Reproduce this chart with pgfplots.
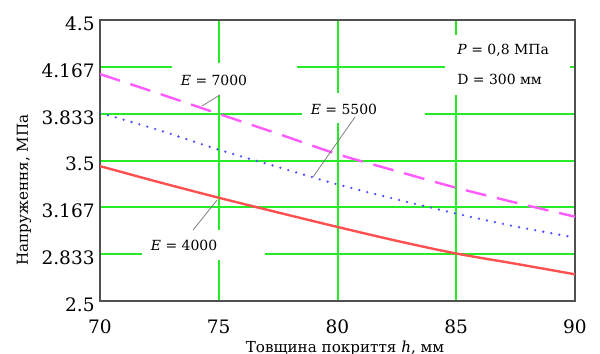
\documentclass[border=0pt]{standalone}
\usepackage{pgfplots}
\pgfplotsset{compat=1.18}
\usepackage{fontspec}
\setmainfont{DejaVu Serif}
\definecolor{gridgreen}{RGB}{40,235,40}
\definecolor{cred}{RGB}{255,80,80}
\definecolor{cmag}{RGB}{255,90,255}
\definecolor{cblue}{RGB}{80,80,255}
\definecolor{framec}{RGB}{80,80,80}
\begin{document}
\begin{tikzpicture}
\path[use as bounding box] (0,0) rectangle (300bp,177bp);
\begin{axis}[
  at={(50bp,26.5bp)}, anchor=south west,
  scale only axis, width=237.5bp, height=140.5bp,
  xmin=70, xmax=90, ymin=2.5, ymax=4.5,
  xtick={70,75,80,85,90},
  ytick={2.5,2.8333,3.1667,3.5,3.8333,4.1667,4.5},
  yticklabels={2.5,2.833,3.167,3.5,3.833,4.167,4.5},
  grid=major,
  major grid style={gridgreen, line width=1bp},
  major tick length=0pt,
  axis line style={framec, line width=0.8bp},
  tick label style={font=\fontsize{9.3}{12}\selectfont},
  /pgf/number format/assume math mode=true,
  xticklabel style={anchor=base, yshift=-16bp},
  yticklabel style={anchor=east, inner sep=0pt, xshift=-2.5bp, yshift=-1.8bp},
]
% white label boxes that interrupt the grid
\fill[white] (axis cs:73.03,3.966) rectangle (axis cs:78.29,4.194);
\fill[white] (axis cs:78.51,3.767) rectangle (axis cs:83.68,3.980);
\fill[white] (axis cs:71.77,2.792) rectangle (axis cs:76.95,3.005);
\fill[white] (axis cs:84.53,3.966) rectangle (axis cs:89.79,4.393);

\addplot[cred, line width=1.2bp, smooth] coordinates {
(70,3.460) (72.5,3.345) (75,3.235) (77.5,3.130) (80,3.027) (82.5,2.928) (85,2.838) (87.5,2.765) (90,2.690)};
\addplot[cblue, line width=1.3bp, line cap=round, dash pattern=on 0bp off 4.1bp, smooth] coordinates {
(70,3.839) (72.5,3.715) (75,3.577) (77.5,3.453) (80,3.330) (82.5,3.223) (85,3.122) (87.5,3.030) (90,2.952)};
\addplot[cmag, line width=1.2bp, dash pattern=on 10.5bp off 5.5bp, smooth] coordinates {
(70,4.115) (72.5,3.975) (75,3.832) (77.5,3.690) (80,3.545) (82.5,3.424) (85,3.306) (87.5,3.200) (90,3.100)};

\draw[gray, line width=0.4bp] (axis cs:75.05,3.966) -- (axis cs:74.29,3.888);
\draw[gray, line width=0.4bp] (axis cs:80.74,3.810) -- (axis cs:78.97,3.383);
\draw[gray, line width=0.4bp] (axis cs:73.92,3.005) -- (axis cs:74.93,3.219);

\node[font=\fontsize{7}{10}\selectfont] at (axis cs:74.80,4.073) {\textit{E} = 7000};
\node[font=\fontsize{7}{10}\selectfont] at (axis cs:80.27,3.867) {\textit{E} = 5500};
\node[font=\fontsize{7}{10}\selectfont] at (axis cs:73.54,2.899) {\textit{E} = 4000};
\node[anchor=west, inner sep=0pt, font=\fontsize{7}{10}\selectfont] at (axis cs:85.03,4.286) {\textit{P} = 0,8 МПа};
\node[anchor=west, inner sep=0pt, font=\fontsize{7}{10}\selectfont] at (axis cs:85.03,4.080) {D = 300 мм};
\end{axis}
\node[rotate=90, font=\fontsize{7.6}{10}\selectfont] at (12bp,82bp) {Напруження, МПа};
\node[anchor=base, font=\fontsize{7.6}{10}\selectfont] at (172.5bp,1bp) {Товщина покриття \textit{h}, мм};
\end{tikzpicture}
\end{document}
